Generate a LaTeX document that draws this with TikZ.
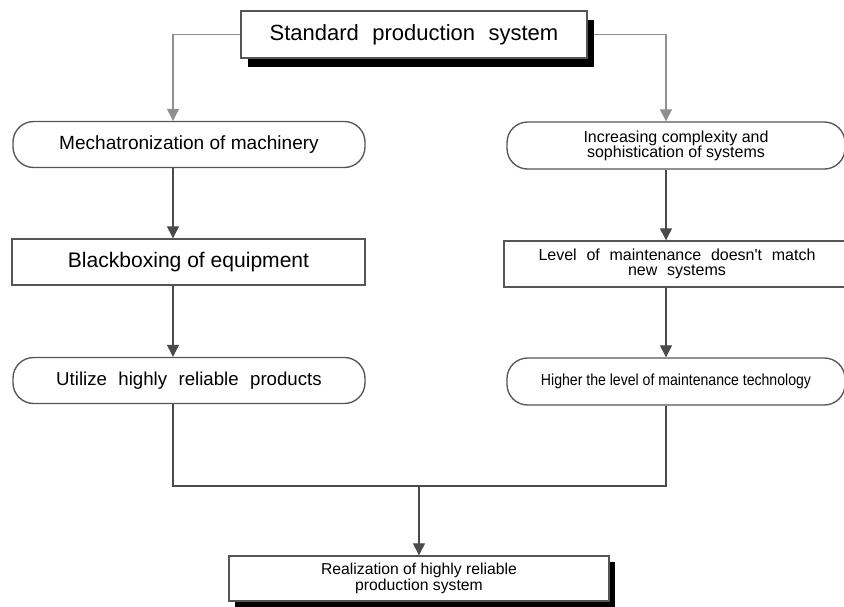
\documentclass[tikz,border=0pt]{standalone}
\usepackage{fontspec}
\setmainfont{Liberation Sans}
\newfontfamily\widesans{Liberation Sans}[WordSpace=2.2]
\newfontfamily\narrowsans{Liberation Sans}[FakeStretch=0.88]
\definecolor{linegray}{HTML}{4A4A4A}
\definecolor{lightline}{HTML}{8F8F8F}
\definecolor{boxgray}{HTML}{555555}
\usetikzlibrary{arrows.meta,shadows,backgrounds}

\begin{document}
\begin{tikzpicture}[
  x=0.75pt, y=-0.75pt,
  box/.style={draw=boxgray, line width=1pt, fill=white, inner sep=0pt,
    align=center, minimum height=34.5pt},
  pill/.style={box, rounded corners=15.5pt},
  shadowbox/.style={box, drop shadow={shadow xshift=5.5pt, shadow yshift=-6.5pt,
    fill=black, opacity=1}},
  link/.style={draw=linegray, line width=0.8pt, -{Triangle[width=9pt,length=9pt]}},
  joinline/.style={draw=linegray, line width=0.8pt}
]
  \useasboundingbox (0,0) rectangle (844,607);

  % column lines
  \coordinate (lcol) at (173,0);
  \coordinate (rcol) at (666,0);
  \coordinate (joint) at (419,486);

  % Top box
  \node[shadowbox, minimum width=259.5pt, minimum height=35.25pt,
    font=\fontsize{16.5pt}{19pt}\selectfont\widesans] (std) at (414,34.5)
    {Standard production system};

  % Left column
  \node[pill, minimum width=264pt, font=\fontsize{14.3pt}{17pt}\selectfont]
    (mecha) at (189,144.5) {Mechatronization of machinery};
  \node[box, minimum width=264.75pt, font=\fontsize{15.8pt}{18pt}\selectfont]
    (blackbox) at (188.5,262) {Blackboxing of equipment};
  \node[pill, minimum width=264pt, font=\fontsize{14pt}{17pt}\selectfont\widesans]
    (utilize) at (189,380.5) {Utilize highly reliable products};

  % Right column
  \node[pill, minimum width=253.5pt, minimum height=35.25pt,
    font=\fontsize{12pt}{11.2pt}\selectfont] (complex) at (676,145.5)
    {Increasing complexity and\\sophistication of systems};
  \node[box, minimum width=259.5pt, font=\fontsize{12pt}{11.2pt}\selectfont\widesans]
    (level) at (677,264) {Level of maintenance doesn't match\\new systems};
  \node[pill, minimum width=253.5pt, minimum height=35.25pt,
    font=\fontsize{12pt}{14pt}\selectfont\narrowsans] (higher) at (676,381.5)
    {Higher the level of maintenance technology};

  % Result box
  \node[box, minimum width=285pt, minimum height=33.75pt,
    drop shadow={shadow xshift=4.5pt, shadow yshift=-4.5pt, fill=black, opacity=1},
    font=\fontsize{11.8pt}{12pt}\selectfont] (result) at (419,578.5)
    {Realization of highly reliable\\production system};

  % Connectors
  \begin{scope}[on background layer]
    \draw[link, draw=lightline] (std.west) -| (lcol |- mecha.north);
    \draw[link, draw=lightline] (std.east) -| (rcol |- complex.north);
  \end{scope}
  \draw[link] (lcol |- mecha.south) -- (lcol |- blackbox.north);
  \draw[link] (lcol |- blackbox.south) -- (lcol |- utilize.north);
  \draw[link] (rcol |- complex.south) -- (rcol |- level.north);
  \draw[link] (rcol |- level.south) -- (rcol |- higher.north);
  \draw[joinline] (lcol |- utilize.south) |- (joint) -| (rcol |- higher.south);
  \draw[link] (joint) -- (joint |- result.north);
\end{tikzpicture}
\end{document}
